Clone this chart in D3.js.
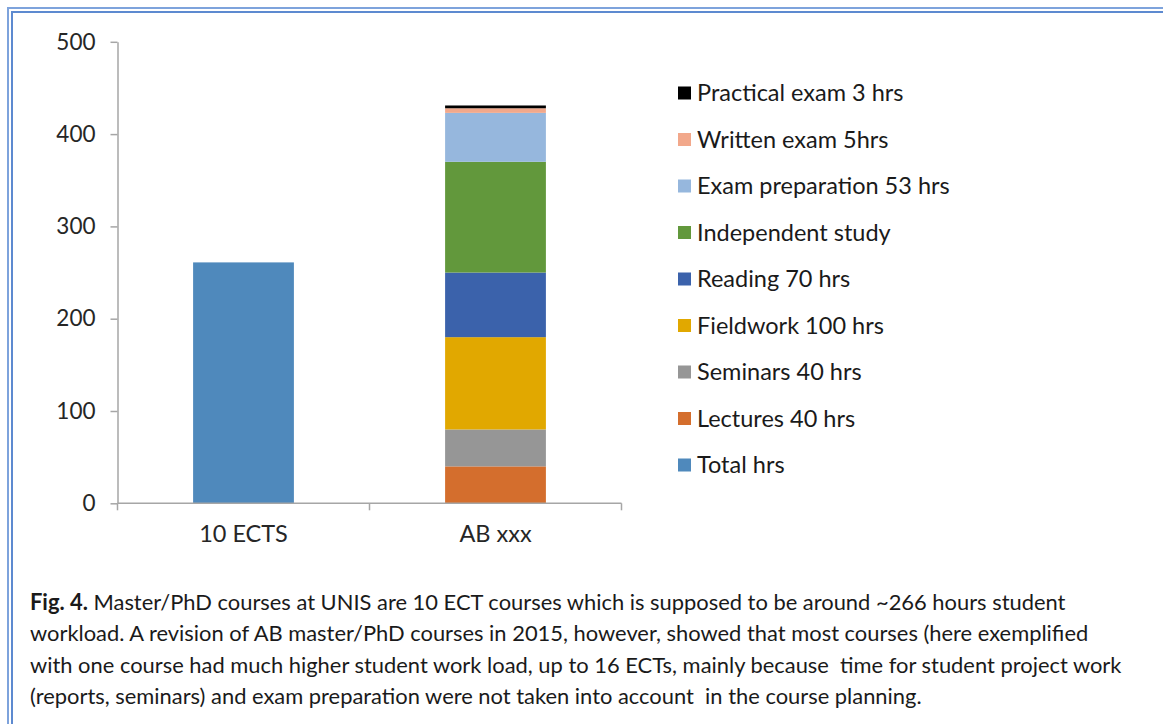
<!DOCTYPE html>
<html lang="en">
<head>
  <meta charset="UTF-8">
  <title>Student workload</title>
  <script src="https://d3js.org/d3.v7.min.js"></script>
  <style>
    body { margin: 0; background: #fff; }
    svg { display: block; font-family: Lato, "Open Sans", sans-serif; }
    .tick text { fill: #262626; }
    .caption { white-space: pre; fill: #1a1a1a; }
  </style>
</head>
<body>
  <div id="chart"></div>
  <script>
    // data
    const categories = ["10 ECTS", "AB xxx"];
    const seriesNames = ["Total hrs", "Lectures 40 hrs", "Seminars 40 hrs", "Fieldwork 100 hrs",
                         "Reading 70 hrs", "Independent study", "Exam preparation 53 hrs",
                         "Written exam 5hrs", "Practical exam 3 hrs"];
    const totalHrs     = [261, 0];
    const lectures     = [0, 40];
    const seminars     = [0, 40];
    const fieldwork    = [0, 100];
    const reading      = [0, 70];
    const independent  = [0, 120];
    const examPrep     = [0, 53];
    const writtenExam  = [0, 5];
    const practical    = [0, 3];
    const seriesValues = [totalHrs, lectures, seminars, fieldwork, reading,
                          independent, examPrep, writtenExam, practical];
    const seriesColors = ["#4f89bc", "#d46e2d", "#969696", "#e1a800", "#3b62ab",
                          "#62983c", "#96b7dd", "#f2a88b", "#000000"];
    const yTicks = [0, 100, 200, 300, 400, 500];
    const captionLines = [
      "Master/PhD courses at UNIS are 10 ECT courses which is supposed to be around ~266 hours student",
      "workload. A revision of AB master/PhD courses in 2015, however, showed that most courses (here exemplified",
      "with one course had much higher student work load, up to 16 ECTs, mainly because  time for student project work",
      "(reports, seminars) and exam preparation were not taken into account  in the course planning."
    ];

    const W = 1163, H = 724;
    const FONT = 'Lato, "Open Sans", sans-serif';
    const svg = d3.select("#chart").append("svg")
                  .attr("width", W).attr("height", H);

    // double frame (top + left only, rest runs off the picture)
    [[8, "#7ea3dc"], [12, "#5d8ad0"]].forEach(([o, c]) => {
      svg.append("path")
         .attr("d", `M${o},${H} V${o} H${W}`)
         .attr("fill", "none").attr("stroke", c).attr("stroke-width", 2);
    });

    const x = d3.scaleBand().domain(categories)
                .range([117.5, 621.5]).paddingInner(0.6).paddingOuter(0.3);
    const y = d3.scaleLinear().domain([0, 500]).range([503.3, 41.8]);

    const table = categories.map((c, i) => {
      const row = {cat: c};
      seriesNames.forEach((s, j) => row[s] = seriesValues[j][i]);
      return row;
    });
    const stacked = d3.stack().keys(seriesNames)(table);

    svg.append("g").selectAll("g")
       .data(stacked)
       .join("g")
       .attr("fill", (d, i) => seriesColors[i])
       .selectAll("rect")
       .data(d => d.filter(p => p[1] - p[0] > 0))
       .join("rect")
       .attr("x", d => x(d.data.cat))
       .attr("width", x.bandwidth())
       .attr("y", d => y(d[1]))
       .attr("height", d => y(d[0]) - y(d[1]));

    // y axis
    const yAxis = svg.append("g")
       .attr("transform", "translate(117.5,0)")
       .call(d3.axisLeft(y).tickValues(yTicks).tickSize(7).tickSizeOuter(0).tickPadding(15));
    yAxis.attr("font-family", FONT).attr("font-size", 22.5);
    yAxis.selectAll("line, path").attr("stroke", "#a6a6a6").attr("stroke-width", 1.5);

    // x axis: labels at centres, ticks at category boundaries
    const xAxis = svg.append("g")
       .attr("transform", `translate(0,${y(0)})`)
       .call(d3.axisBottom(x).tickSize(0).tickSizeOuter(0).tickPadding(22));
    xAxis.attr("font-family", FONT).attr("font-size", 23.5);
    xAxis.select("path").attr("stroke", "#a6a6a6").attr("stroke-width", 1.5)
         .attr("d", `M${x.range()[0]},0H${x.range()[1]}`);
    xAxis.selectAll(".bound")
         .data(d3.range(categories.length + 1))
         .join("line")
         .attr("x1", i => x.range()[0] + i * x.step())
         .attr("x2", i => x.range()[0] + i * x.step())
         .attr("y1", 0).attr("y2", 7)
         .attr("stroke", "#a6a6a6").attr("stroke-width", 1.5);

    // legend, reversed order like the stack
    const legend = svg.append("g").attr("transform", "translate(678,93)");
    const legItems = legend.selectAll("g")
       .data(seriesNames.map((s, i) => ({s, c: seriesColors[i]})).reverse())
       .join("g")
       .attr("transform", (d, i) => `translate(0,${i * 46.5})`);
    legItems.append("rect")
       .attr("x", 0).attr("y", -6.5).attr("width", 13).attr("height", 13)
       .attr("fill", d => d.c);
    legItems.append("text")
       .attr("x", 19).attr("y", 8)
       .style("font-size", "23.5px").attr("fill", "#1a1a1a")
       .text(d => d.s);

    // caption
    const cap = svg.append("g").attr("transform", "translate(30,0)");
    captionLines.forEach((line, i) => {
      const t = cap.append("text").attr("class", "caption")
         .attr("x", 0).attr("y", 610 + i * 31.3)
         .style("font-size", "21.9px");
      if (i === 0) {
        t.append("tspan").style("font-weight", "bold").text("Fig. 4.");
        t.append("tspan").text(" " + line);
      } else {
        t.text(line);
      }
    });
  </script>
</body>
</html>
